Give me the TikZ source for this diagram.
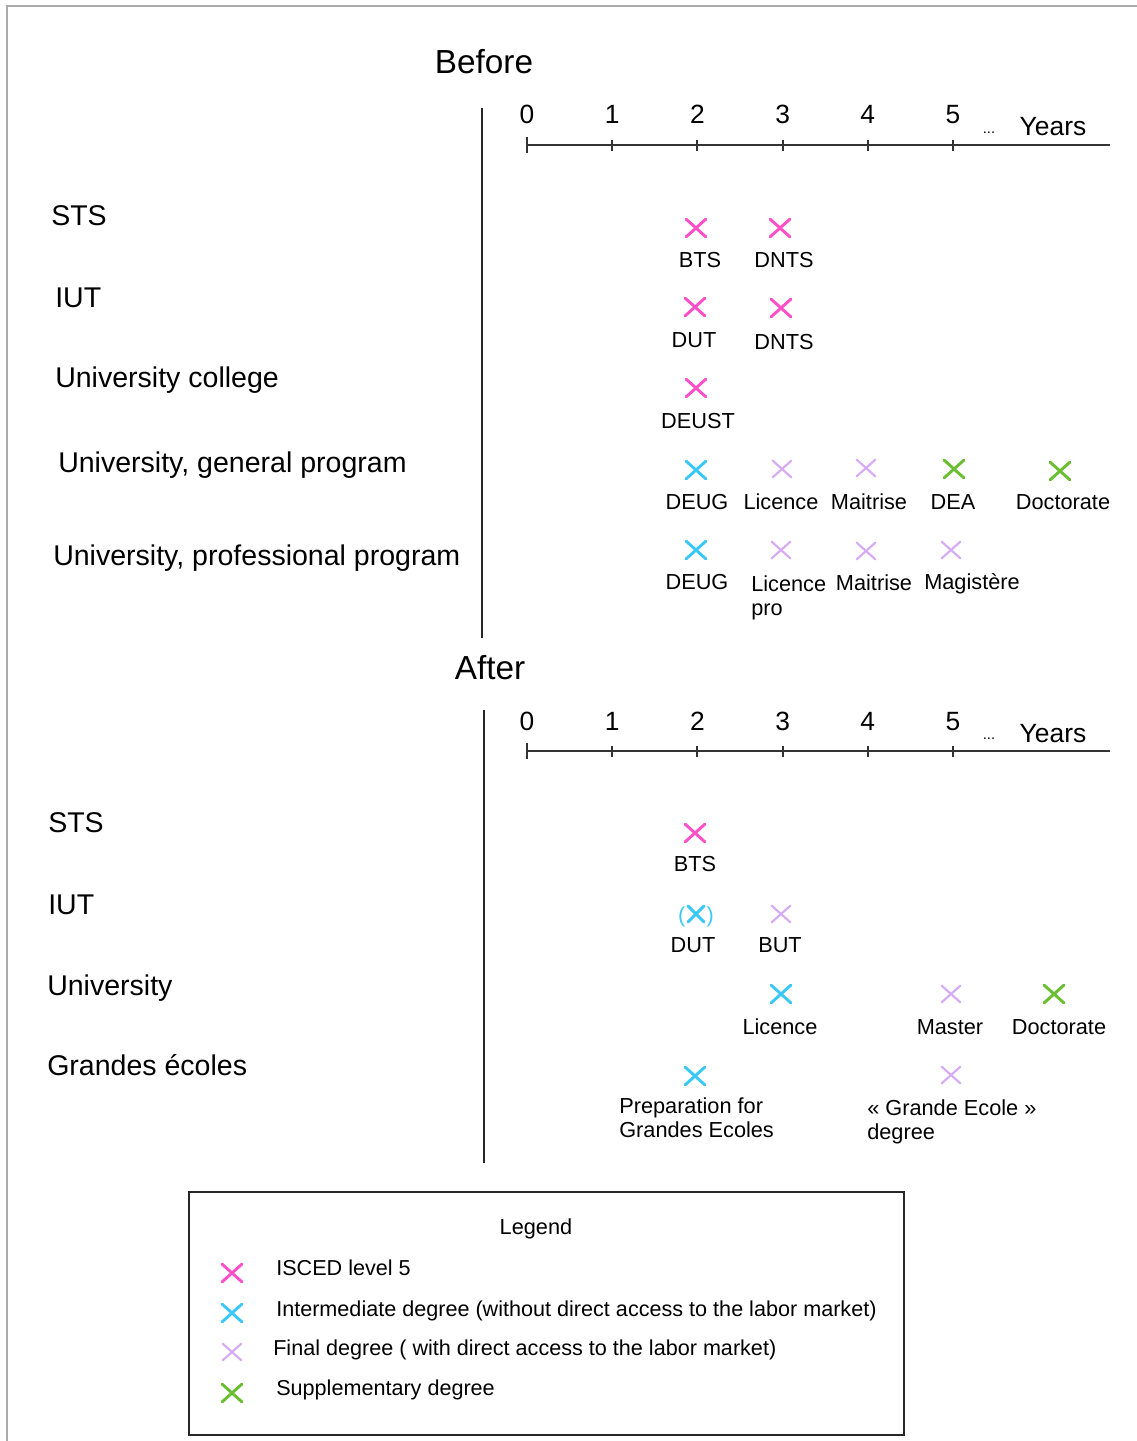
\documentclass[tikz,border=0pt]{standalone}
\usepackage{fontspec}
\setmainfont{Liberation Sans}
\usepackage{tikz}
\usetikzlibrary{shapes.misc}

\definecolor{iscedpink}{RGB}{255,80,200}
\definecolor{intercyan}{RGB}{60,200,245}
\definecolor{finallav}{RGB}{215,170,245}
\definecolor{suppgreen}{RGB}{105,190,50}
\definecolor{frame}{RGB}{170,170,170}

\tikzset{
  heading/.style={font=\fontsize{25}{30}\selectfont, inner sep=0pt, text height=17.9pt, text depth=0pt},
  rowlbl/.style={anchor=west, font=\fontsize{21.4}{26}\selectfont, inner sep=0pt, text height=15.3pt, text depth=0pt},
  ticklbl/.style={font=\fontsize{19.8}{24}\selectfont, inner sep=0pt, text height=14.2pt, text depth=0pt},
  deglbl/.style={font=\fontsize{16.3}{19.5}\selectfont, inner sep=0pt, text height=11.7pt, text depth=0pt},
  deglbltwo/.style={anchor=north west, align=left, font=\fontsize{16.3}{18.6}\selectfont, inner sep=0pt},
  leglbl/.style={anchor=west, font=\fontsize{16.2}{19.5}\selectfont, inner sep=0pt, text height=11.6pt, text depth=0pt},
  degx/.style={cross out, draw, inner sep=0pt, minimum width=12.5pt, minimum height=11pt, line width=2.2pt, line cap=round},
  xisced/.style={degx, draw=iscedpink},
  xinter/.style={degx, draw=intercyan},
  xfinal/.style={degx, draw=finallav, line width=1.6pt},
  xsupp/.style={degx, draw=suppgreen},
  axisline/.style={black!80, line width=1.5pt},
  sepline/.style={black!85, line width=1.6pt},
}

\begin{document}
\begin{tikzpicture}[x=0.75pt, y=-0.75pt]
\useasboundingbox (0,0) rectangle (1137,1441);
\draw[frame, line width=1.5pt] (7,1441) -- (7,6) -- (1137,6);

% before
\node[heading] (before) at (484,62) {Before};
\draw[sepline] (482,108) -- (482,638);
\draw[axisline] (527,145) -- (1110,145);
\draw[axisline] (527,137) -- (527,153);
\foreach \i in {1,...,5}
  \draw[axisline] ({527+85.2*\i},140) -- ({527+85.2*\i},151);
\foreach \i in {0,...,5}
  \node[ticklbl] (bt\i) at ({527+85.2*\i},114) {\i};
\node[font=\fontsize{11}{13}\selectfont, inner sep=0pt] (bdots) at (989,133) {...};
\node[ticklbl] (byears) at (1053,126) {Years};

\node[rowlbl] (bsts) at (51,215) {STS};
\node[rowlbl] (biut) at (55,297) {IUT};
\node[rowlbl] (bcol) at (55,377) {University college};
\node[rowlbl] (bgen) at (58,462) {University, general program};
\node[rowlbl] (bpro) at (53,555) {University, professional program};

\node[xisced] (xbts) at (696,228) {};
\node[deglbl] (lbts) at (700,260) {BTS};
\node[xisced] (xdntsa) at (780,228) {};
\node[deglbl] (ldntsa) at (784,260) {DNTS};
\node[xisced] (xdut) at (695,307) {};
\node[deglbl] (ldut) at (694,340) {DUT};
\node[xisced] (xdntsb) at (781,308) {};
\node[deglbl] (ldntsb) at (784,342) {DNTS};
\node[xisced] (xdeust) at (696,388) {};
\node[deglbl] (ldeust) at (698,421) {DEUST};

\node[xinter] (xdeuga) at (696,470) {};
\node[deglbl] (ldeuga) at (697,502) {DEUG};
\node[xfinal] (xlica) at (782,469) {};
\node[deglbl] (llica) at (781,502) {Licence};
\node[xfinal] (xmaia) at (866,468) {};
\node[deglbl] (lmaia) at (869,502) {Maitrise};
\node[xsupp] (xdea) at (954,469) {};
\node[deglbl] (ldea) at (953,502) {DEA};
\node[xsupp] (xdoca) at (1060,471) {};
\node[deglbl] (ldoca) at (1063,502) {Doctorate};

\node[xinter] (xdeugb) at (696,550) {};
\node[deglbl] (ldeugb) at (697,582) {DEUG};
\node[xfinal] (xlicpro) at (781,550) {};
\node[deglbltwo] (llicpro) at (751,575) {Licence\\pro};
\node[xfinal] (xmaib) at (866,551) {};
\node[deglbl] (lmaib) at (874,583) {Maitrise};
\node[xfinal] (xmag) at (951,550) {};
\node[deglbl] (lmag) at (972,582) {Magistère};

% after
\node[heading] (after) at (490,668) {After};
\draw[sepline] (484,710) -- (484,1163);
\draw[axisline] (527,751) -- (1110,751);
\draw[axisline] (527,743) -- (527,759);
\foreach \i in {1,...,5}
  \draw[axisline] ({527+85.2*\i},746) -- ({527+85.2*\i},757);
\foreach \i in {0,...,5}
  \node[ticklbl] (at\i) at ({527+85.2*\i},721) {\i};
\node[font=\fontsize{11}{13}\selectfont, inner sep=0pt] (adots) at (989,739) {...};
\node[ticklbl] (ayears) at (1053,733) {Years};

\node[rowlbl] (asts) at (48,822) {STS};
\node[rowlbl] (aiut) at (48,904) {IUT};
\node[rowlbl] (auni) at (47,985) {University};
\node[rowlbl] (age) at (47,1065) {Grandes écoles};

\node[xisced] (xabts) at (695,833) {};
\node[deglbl] (labts) at (695,864) {BTS};
\node[xinter, minimum width=10pt, minimum height=10pt] (xadut) at (696,914) {};
\node[deglbl, text=intercyan] (padut) at (696,915) {(\hspace{16pt})};
\node[deglbl] (ladut) at (693,945) {DUT};
\node[xfinal] (xabut) at (781,914) {};
\node[deglbl] (labut) at (780,945) {BUT};
\node[xinter] (xalic) at (781,994) {};
\node[deglbl] (lalic) at (780,1027) {Licence};
\node[xfinal] (xamas) at (951,994) {};
\node[deglbl] (lamas) at (950,1027) {Master};
\node[xsupp] (xadoc) at (1054,994) {};
\node[deglbl] (ladoc) at (1059,1027) {Doctorate};
\node[xinter] (xaprep) at (695,1076) {};
\node[deglbltwo] (laprep) at (619,1097) {Preparation for\\Grandes Ecoles};
\node[xfinal] (xage) at (951,1075) {};
\node[deglbltwo] (lage) at (867,1099) {« Grande Ecole »\\degree};

% legend
\draw[black!85, line width=1.6pt] (189,1192) rectangle (904,1435);
\node[deglbl] (legend) at (536,1227) {Legend};
\node[xisced] (kisced) at (232,1273) {};
\node[leglbl] (tisced) at (276,1268) {ISCED level 5};
\node[xinter] (kinter) at (232,1313) {};
\node[leglbl] (tinter) at (276,1309) {Intermediate degree (without direct access to the labor market)};
\node[xfinal] (kfinal) at (232,1352) {};
\node[leglbl] (tfinal) at (273,1348) {Final degree ( with direct access to the labor market)};
\node[xsupp] (ksupp) at (232,1393) {};
\node[leglbl] (tsupp) at (276,1388) {Supplementary degree};
\end{tikzpicture}
\end{document}
